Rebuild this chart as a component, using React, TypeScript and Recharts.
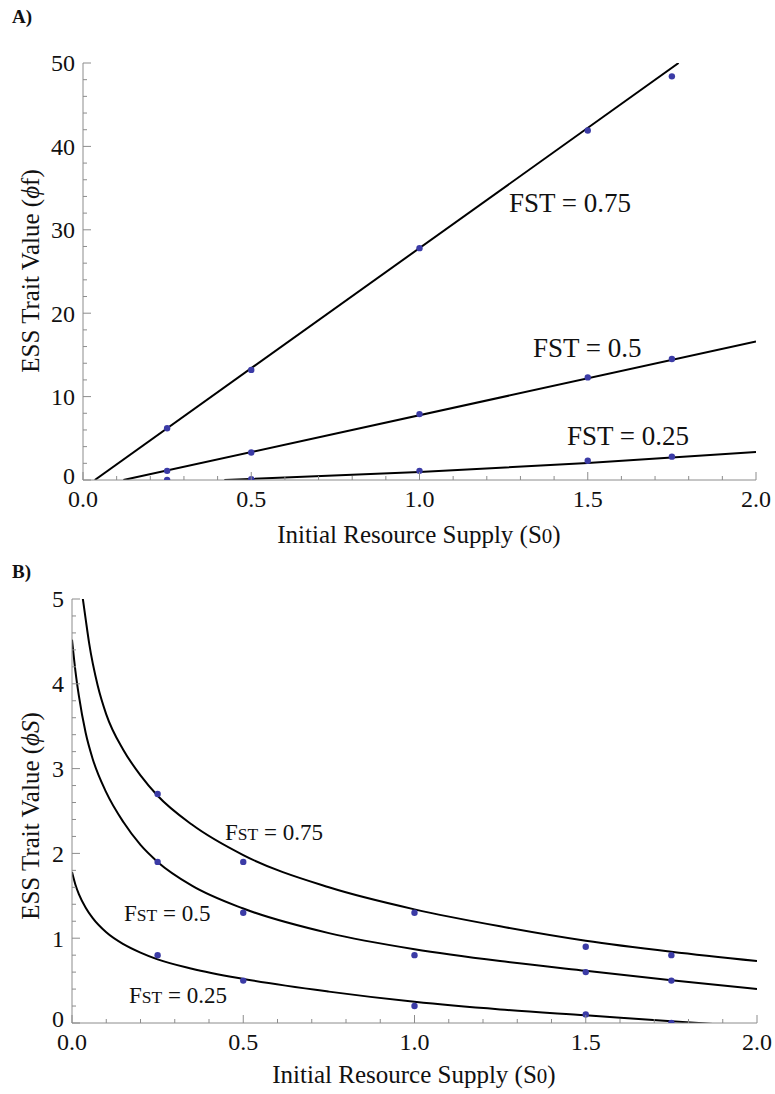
import { ComposedChart, Line, Scatter, XAxis, YAxis } from 'recharts';

// shared axis ticks (minor + major)
const S0_TICKS = [0, 0.1, 0.2, 0.3, 0.4, 0.5, 0.6, 0.7, 0.8, 0.9, 1.0, 1.1, 1.2, 1.3, 1.4, 1.5, 1.6, 1.7, 1.8, 1.9, 2.0];
const PHI_F_TICKS = [0, 2, 4, 6, 8, 10, 12, 14, 16, 18, 20, 22, 24, 26, 28, 30, 32, 34, 36, 38, 40, 42, 44, 46, 48, 50];
const PHI_S_TICKS = [0, 0.2, 0.4, 0.6, 0.8, 1, 1.2, 1.4, 1.6, 1.8, 2, 2.2, 2.4, 2.6, 2.8, 3, 3.2, 3.4, 3.6, 3.8, 4, 4.2, 4.4, 4.6, 4.8, 5];

// simulated points (same supply levels in both panels)
const supply = [0.25, 0.5, 1.0, 1.5, 1.75];
const simF75 = [6.2, 13.2, 27.8, 41.9, 48.4];
const simF50 = [1.1, 3.3, 7.9, 12.3, 14.5];
const simF25 = [0.0, 0.1, 1.1, 2.3, 2.8];
const simS75 = [2.7, 1.9, 1.3, 0.9, 0.8];
const simS50 = [1.9, 1.3, 0.8, 0.6, 0.5];
const simS25 = [0.8, 0.5, 0.2, 0.1, 0.0];

// analytic curves, panel A (straight lines)
const fitF75x = [0.035, 1.77];
const fitF75y = [0, 50];
const fitF50x = [0.12, 2.0];
const fitF50y = [0, 16.6];
const fitF25x = [0.42, 1.0, 1.5, 2.0];
const fitF25y = [0, 0.95, 2.05, 3.35];

// analytic curves, panel B
const fitS75x = [0.03, 0.04, 0.05, 0.075, 0.1, 0.15, 0.2, 0.25, 0.35, 0.5, 0.75, 1.0, 1.25, 1.5, 1.75, 2.0];
const fitS75y = [5.05, 4.76, 4.48, 3.98, 3.64, 3.22, 2.92, 2.68, 2.34, 1.98, 1.6, 1.34, 1.14, 0.97, 0.84, 0.73];
const fitS50x = [0, 0.01, 0.02, 0.04, 0.06, 0.1, 0.15, 0.2, 0.25, 0.35, 0.5, 0.75, 1.0, 1.25, 1.5, 1.75, 2.0];
const fitS50y = [4.52, 4.15, 3.86, 3.42, 3.12, 2.72, 2.37, 2.1, 1.9, 1.62, 1.35, 1.06, 0.87, 0.73, 0.615, 0.505, 0.4];
const fitS25x = [0, 0.01, 0.02, 0.04, 0.06, 0.1, 0.15, 0.2, 0.25, 0.35, 0.5, 0.75, 1.0, 1.25, 1.5, 1.75, 1.83, 1.9];
const fitS25y = [1.78, 1.63, 1.52, 1.36, 1.24, 1.07, 0.93, 0.83, 0.75, 0.64, 0.52, 0.37, 0.25, 0.16, 0.09, 0.02, 0.0, -0.02];

const pts = (xs: number[], ys: number[]) => xs.map((x, i) => ({ x, y: ys[i] }));

const FRAME = '#8c8c8c';
const DOT = '#3b3ba6';
const FONT = 'Liberation Serif, Times New Roman, serif';

function makeTick(side: 'bottom' | 'top' | 'left' | 'right', isMajor: (v: number) => boolean, fmt: (v: number) => string) {
  return (props: any) => {
    const { x, y, payload } = props;
    const v = payload.value as number;
    const major = isMajor(v);
    const len = major ? 8 : 4;
    let line;
    if (side === 'bottom') line = <line x1={x} y1={y} x2={x} y2={y - len} stroke={FRAME} />;
    else if (side === 'top') line = <line x1={x} y1={y} x2={x} y2={y + len} stroke={FRAME} />;
    else if (side === 'left') line = <line x1={x} y1={y} x2={x + len} y2={y} stroke={FRAME} />;
    else line = <line x1={x} y1={y} x2={x - len} y2={y} stroke={FRAME} />;
    let label = null;
    if (major && side === 'bottom') {
      label = (
        <text x={x} y={y + 27} textAnchor="middle" fontSize={24} fontFamily={FONT} fill="#111">
          {fmt(v)}
        </text>
      );
    } else if (major && side === 'left') {
      // the zero label sits a little higher so it clears the 0.0 below it
      const lift = v === 0 ? 4 : 0;
      label = (
        <text x={x - 8} y={y - lift} dy="0.35em" textAnchor="end" fontSize={24} fontFamily={FONT} fill="#111">
          {fmt(v)}
        </text>
      );
    }
    return (
      <g>
        {line}
        {label}
      </g>
    );
  };
}

const halfStep = (v: number) => Math.abs(v * 2 - Math.round(v * 2)) < 1e-6;
const fmtS0 = (v: number) => v.toFixed(1);

function Panel({
  top,
  height,
  margin,
  yWidth,
  xHeight,
  yMax,
  yTicks,
  yMajor,
  lines,
  dots,
  smooth,
}: {
  top: number;
  height: number;
  margin: { top: number; right: number; bottom: number; left: number };
  yWidth: number;
  xHeight: number;
  yMax: number;
  yTicks: number[];
  yMajor: (v: number) => boolean;
  lines: { x: number; y: number }[][];
  dots: { x: number; y: number }[][];
  smooth: boolean;
}) {
  const fmtY = (v: number) => String(Math.round(v));
  return (
    <div style={{ position: 'absolute', left: 0, top, width: 775, height }}>
      <ComposedChart width={775} height={height} margin={margin}>
        <XAxis
          type="number"
          dataKey="x"
          domain={[0, 2]}
          ticks={S0_TICKS}
          interval={0}
          tickSize={0}
          tickMargin={0}
          tickLine={false}
          axisLine={{ stroke: FRAME }}
          tick={makeTick('bottom', halfStep, fmtS0)}
          height={xHeight}
          allowDataOverflow
        />
        <XAxis
          xAxisId="top"
          orientation="top"
          type="number"
          domain={[0, 2]}
          ticks={S0_TICKS}
          interval={0}
          tickSize={0}
          tickMargin={0}
          tickLine={false}
          axisLine={{ stroke: FRAME }}
          tick={makeTick('top', halfStep, fmtS0)}
          height={0}
          allowDataOverflow
        />
        <YAxis
          type="number"
          dataKey="y"
          domain={[0, yMax]}
          ticks={yTicks}
          interval={0}
          tickSize={0}
          tickMargin={0}
          tickLine={false}
          axisLine={{ stroke: FRAME }}
          tick={makeTick('left', yMajor, fmtY)}
          width={yWidth}
          allowDataOverflow
        />
        <YAxis
          yAxisId="right"
          orientation="right"
          type="number"
          domain={[0, yMax]}
          ticks={yTicks}
          interval={0}
          tickSize={0}
          tickMargin={0}
          tickLine={false}
          axisLine={{ stroke: FRAME }}
          tick={makeTick('right', yMajor, fmtY)}
          width={0}
          allowDataOverflow
        />
        {lines.map((d, i) => (
          <Line
            key={'l' + i}
            data={d}
            dataKey="y"
            type={smooth ? 'monotone' : 'linear'}
            stroke="#000"
            strokeWidth={2}
            dot={false}
            activeDot={false}
            isAnimationActive={false}
          />
        ))}
        {dots.map((d, i) => (
          <Scatter
            key={'s' + i}
            data={d}
            dataKey="y"
            fill={DOT}
            isAnimationActive={false}
            shape={(p: any) => <circle cx={p.cx} cy={p.cy} r={3.2} fill={DOT} />}
          />
        ))}
      </ComposedChart>
    </div>
  );
}

function Fst({ x, y, size, value, small }: { x: number; y: number; size: number; value: string; small: boolean }) {
  return (
    <text x={x} y={y} fontSize={size} fontFamily={FONT} fill="#111">
      F<tspan fontSize={small ? size * 0.76 : size}>ST</tspan> = {value}
    </text>
  );
}

export default function App() {
  return (
    <div style={{ position: 'absolute', left: 0, top: 0, width: 775, height: 1094, background: '#fff' }}>
      <Panel
        top={0}
        height={540}
        margin={{ top: 63, right: 19, bottom: 30, left: 23 }}
        yWidth={60}
        xHeight={30}
        yMax={50}
        yTicks={PHI_F_TICKS}
        yMajor={(v) => v % 10 === 0}
        lines={[pts(fitF75x, fitF75y), pts(fitF50x, fitF50y), pts(fitF25x, fitF25y)]}
        dots={[pts(supply, simF75), pts(supply, simF50), pts(supply, simF25)]}
        smooth={false}
      />
      <Panel
        top={545}
        height={549}
        margin={{ top: 54, right: 18, bottom: 41, left: 22 }}
        yWidth={50}
        xHeight={30}
        yMax={5}
        yTicks={PHI_S_TICKS}
        yMajor={(v) => Math.abs(v - Math.round(v)) < 1e-6}
        lines={[pts(fitS75x, fitS75y), pts(fitS50x, fitS50y), pts(fitS25x, fitS25y)]}
        dots={[pts(supply, simS75), pts(supply, simS50), pts(supply, simS25)]}
        smooth={true}
      />
      <svg
        width={775}
        height={1094}
        style={{ position: 'absolute', left: 0, top: 0, pointerEvents: 'none' }}
      >
        <text x={12} y={23} fontSize={19} fontWeight="bold" fontFamily={FONT} fill="#111">A)</text>
        <text x={12} y={578} fontSize={19} fontWeight="bold" fontFamily={FONT} fill="#111">B)</text>

        <text x={419} y={543} textAnchor="middle" fontSize={25} fontFamily={FONT} fill="#111">
          Initial Resource Supply (S<tspan fontSize={21}>0</tspan>)
        </text>
        <text x={414} y={1083} textAnchor="middle" fontSize={25} fontFamily={FONT} fill="#111">
          Initial Resource Supply (S<tspan fontSize={21}>0</tspan>)
        </text>

        <text
          transform="translate(39 271) rotate(-90)"
          textAnchor="middle"
          fontSize={25}
          fontFamily={FONT}
          fill="#111"
        >
          ESS Trait Value (<tspan fontStyle="italic">ϕ</tspan>f)
        </text>
        <text
          transform="translate(39 816) rotate(-90)"
          textAnchor="middle"
          fontSize={25}
          fontFamily={FONT}
          fill="#111"
        >
          ESS Trait Value (<tspan fontStyle="italic">ϕS</tspan>)
        </text>

        <Fst x={509} y={212} size={27} value="0.75" small={false} />
        <Fst x={533} y={357} size={27} value="0.5" small={false} />
        <Fst x={567} y={445} size={27} value="0.25" small={false} />

        <Fst x={225} y={840} size={23} value="0.75" small={true} />
        <Fst x={124} y={921} size={23} value="0.5" small={true} />
        <Fst x={129} y={1003} size={23} value="0.25" small={true} />
      </svg>
    </div>
  );
}
